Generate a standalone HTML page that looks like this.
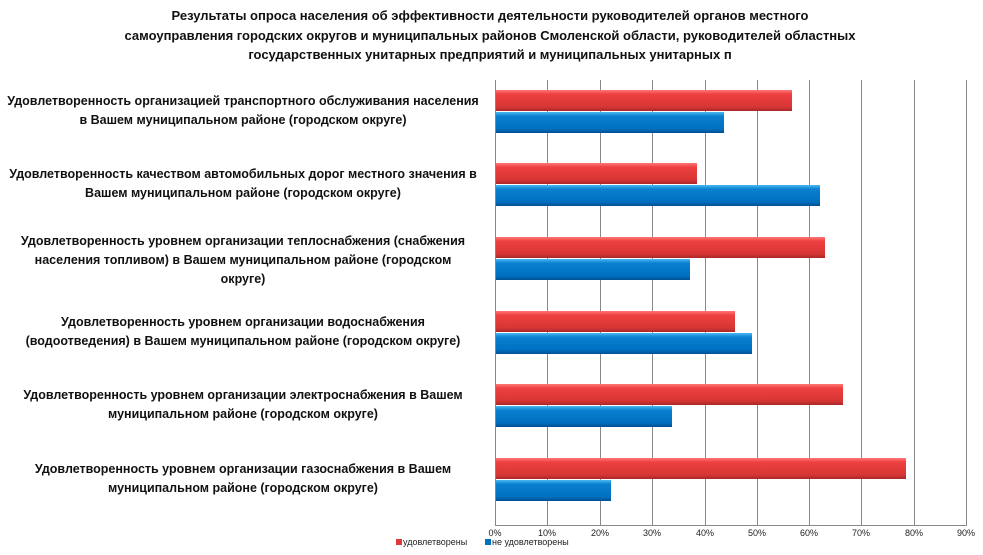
<!DOCTYPE html>
<html><head><meta charset="utf-8"><style>
body{margin:0;width:983px;height:555px;background:#fff;font-family:"Liberation Sans",sans-serif;position:relative;overflow:hidden}
.t{position:absolute;left:60px;width:860px;top:6px;text-align:center;font-weight:bold;font-size:13px;line-height:19.5px;color:#111}
.l{position:absolute;left:0;width:486px;text-align:center;font-weight:bold;font-size:12.5px;line-height:19px;color:#111}
</style></head><body>
<div class="t">Результаты опроса населения об эффективности деятельности руководителей органов местного<br>самоуправления городских округов и муниципальных районов Смоленской области, руководителей областных<br>государственных унитарных предприятий и муниципальных унитарных п</div>
<div class="l" style="top:92px">Удовлетворенность организацией транспортного обслуживания населения<br>в Вашем муниципальном районе (городском округе)</div>
<div class="l" style="top:165px">Удовлетворенность качеством автомобильных дорог местного значения в<br>Вашем муниципальном районе (городском округе)</div>
<div class="l" style="top:232px">Удовлетворенность уровнем организации теплоснабжения (снабжения<br>населения топливом) в Вашем муниципальном районе (городском<br>округе)</div>
<div class="l" style="top:313px">Удовлетворенность уровнем организации водоснабжения<br>(водоотведения) в Вашем муниципальном районе (городском округе)</div>
<div class="l" style="top:386px">Удовлетворенность уровнем организации электроснабжения в Вашем<br>муниципальном районе (городском округе)</div>
<div class="l" style="top:460px">Удовлетворенность уровнем организации газоснабжения в Вашем<br>муниципальном районе (городском округе)</div>
<svg width="983" height="555" style="position:absolute;left:0;top:0">
<defs>
<linearGradient id="r" x1="0" y1="0" x2="0" y2="1"><stop offset="0" stop-color="#f77"/><stop offset=".2" stop-color="#ee4040"/><stop offset=".8" stop-color="#d83535"/><stop offset="1" stop-color="#a82828"/></linearGradient>
<linearGradient id="b" x1="0" y1="0" x2="0" y2="1"><stop offset="0" stop-color="#4ab8f0"/><stop offset=".2" stop-color="#0a80d0"/><stop offset=".8" stop-color="#0070c0"/><stop offset="1" stop-color="#004f90"/></linearGradient>
</defs>
<g stroke="#888" stroke-width="1">
<line x1="495.5" y1="80" x2="495.5" y2="525"/><line x1="547.5" y1="80" x2="547.5" y2="525"/><line x1="600.5" y1="80" x2="600.5" y2="525"/><line x1="652.5" y1="80" x2="652.5" y2="525"/><line x1="705.5" y1="80" x2="705.5" y2="525"/><line x1="757.5" y1="80" x2="757.5" y2="525"/><line x1="809.5" y1="80" x2="809.5" y2="525"/><line x1="861.5" y1="80" x2="861.5" y2="525"/><line x1="914.5" y1="80" x2="914.5" y2="525"/><line x1="966.5" y1="80" x2="966.5" y2="525"/>
<line x1="495" y1="525.5" x2="967" y2="525.5"/>
</g>
<g>
<rect x="496" y="90" width="296" height="21" fill="url(#r)"/><rect x="496" y="112" width="228" height="21" fill="url(#b)"/>
<rect x="496" y="163" width="201" height="21" fill="url(#r)"/><rect x="496" y="185" width="324" height="21" fill="url(#b)"/>
<rect x="496" y="237" width="329" height="21" fill="url(#r)"/><rect x="496" y="259" width="194" height="21" fill="url(#b)"/>
<rect x="496" y="311" width="239" height="21" fill="url(#r)"/><rect x="496" y="333" width="256" height="21" fill="url(#b)"/>
<rect x="496" y="384" width="347" height="21" fill="url(#r)"/><rect x="496" y="406" width="176" height="21" fill="url(#b)"/>
<rect x="496" y="458" width="410" height="21" fill="url(#r)"/><rect x="496" y="480" width="115" height="21" fill="url(#b)"/>
</g>
<g font-size="9" fill="#222" text-anchor="middle" font-family="Liberation Sans">
<text x="495" y="536">0%</text><text x="547" y="536">10%</text><text x="600" y="536">20%</text><text x="652" y="536">30%</text><text x="705" y="536">40%</text><text x="757" y="536">50%</text><text x="809" y="536">60%</text><text x="861" y="536">70%</text><text x="914" y="536">80%</text><text x="966" y="536">90%</text>
</g>
<rect x="396" y="539" width="6" height="6" fill="#e03838"/>
<text x="403" y="545" font-size="9" fill="#222" font-family="Liberation Sans">удовлетворены</text>
<rect x="485" y="539" width="6" height="6" fill="#0070c0"/>
<text x="492" y="545" font-size="9" fill="#222" font-family="Liberation Sans">не удовлетворены</text>
</svg>
</body></html>
